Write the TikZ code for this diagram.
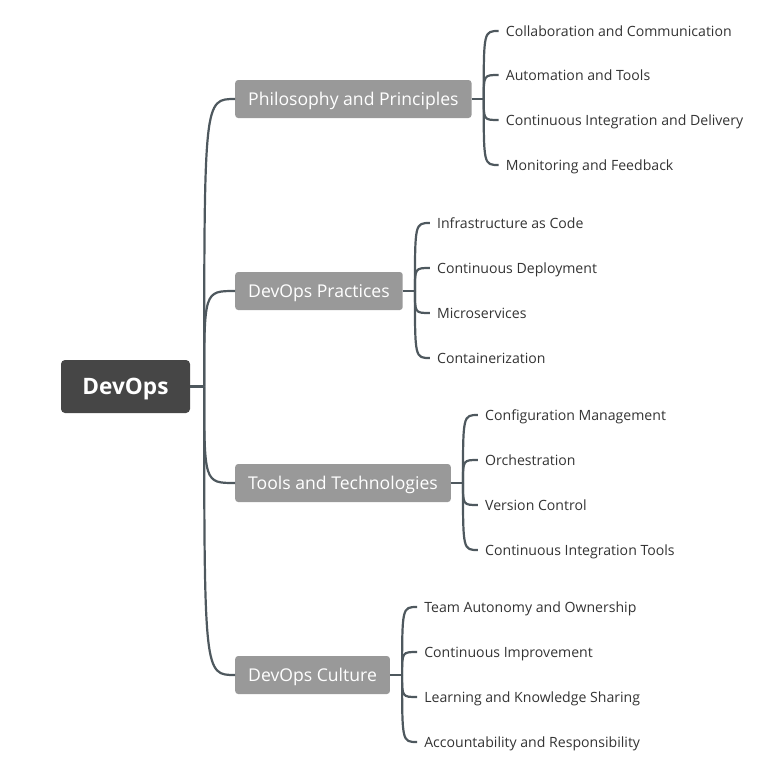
\documentclass[tikz,border=0pt]{standalone}
\usepackage{fontspec}
\setmainfont{Open Sans}
\usepackage{xcolor}
\usetikzlibrary{calc}
\begin{document}
\begin{tikzpicture}[x=1pt,y=-1pt,
  rootnode/.style={rectangle,rounded corners=4pt,fill=rootgray,text=white,minimum width=129pt,minimum height=53pt,inner sep=0pt,text height=16pt,text depth=0pt,font=\fontsize{22.6}{26}\selectfont\bfseries},
  branchnode/.style={rectangle,rounded corners=3pt,fill=branchgray,text=white,anchor=west,minimum height=38pt,inner xsep=13pt,inner ysep=0pt,text height=12.6pt,text depth=0pt,font=\fontsize{17.6}{20}\selectfont},
  leafnode/.style={anchor=west,inner xsep=7pt,inner ysep=2pt,text height=10pt,text depth=0pt,text=leaftext,font=\fontsize{14.1}{17}\selectfont},
  link/.style={draw=linkgray,line width=2.2pt}]
\definecolor{rootgray}{HTML}{464646}
\definecolor{branchgray}{HTML}{999999}
\definecolor{linkgray}{HTML}{4E585E}
\definecolor{leaftext}{HTML}{333333}
\useasboundingbox (0,0) rectangle (773,782);
\node [rootnode] (r) at (125.5,386.5) {DevOps};
\coordinate (jr) at ($(r.east)+(14,0)$);
\draw [link] (r.east) -- (jr);
  \foreach \nm/\txt/\yy in {b1/Philosophy and Principles/99,b2/DevOps Practices/291,b3/Tools and Technologies/483,b4/DevOps Culture/675}
  {  \node [branchnode] (\nm) at (235,\yy) {\txt};
     \draw [link] (jr) .. controls (jr |- \nm.west) .. (\nm.west);
     \coordinate (j\nm) at ($(\nm.east)+(12,0)$);
     \coordinate (k\nm) at ($(j\nm)+(15,0)$);
     \draw [link] (\nm.east) -- (j\nm);}
  \foreach \txt/\yy [count=\i] in {Collaboration and Communication/31,Automation and Tools/75,Continuous Integration and Delivery/120,Monitoring and Feedback/165}
  {  \node [leafnode] (p\i) at (kb1 |- 0,\yy) {\txt};
     \draw [link] (jb1) .. controls (jb1 |- p\i.west) .. (p\i.west);}
  \foreach \txt/\yy [count=\i] in {Infrastructure as Code/223,Continuous Deployment/268,Microservices/313,Containerization/358}
  {  \node [leafnode] (q\i) at (kb2 |- 0,\yy) {\txt};
     \draw [link] (jb2) .. controls (jb2 |- q\i.west) .. (q\i.west);}
  \foreach \txt/\yy [count=\i] in {Configuration Management/415,Orchestration/460,Version Control/505,Continuous Integration Tools/550}
  {  \node [leafnode] (t\i) at (kb3 |- 0,\yy) {\txt};
     \draw [link] (jb3) .. controls (jb3 |- t\i.west) .. (t\i.west);}
  \foreach \txt/\yy [count=\i] in {Team Autonomy and Ownership/607,Continuous Improvement/652,Learning and Knowledge Sharing/697,Accountability and Responsibility/742}
  {  \node [leafnode] (c\i) at (kb4 |- 0,\yy) {\txt};
     \draw [link] (jb4) .. controls (jb4 |- c\i.west) .. (c\i.west);}
\end{tikzpicture}
\end{document}
